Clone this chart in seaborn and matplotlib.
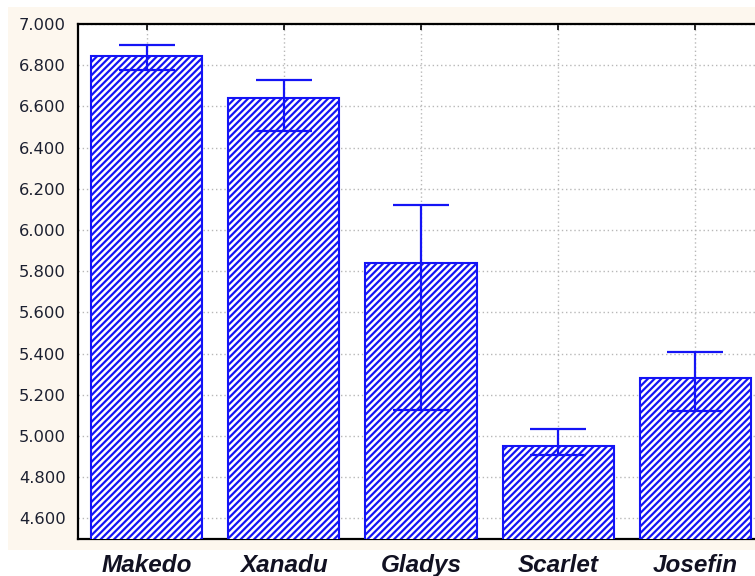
import matplotlib
matplotlib.use("Agg")
import matplotlib.pyplot as plt
from matplotlib.patches import Rectangle
from matplotlib.ticker import FormatStrFormatter
import seaborn as sns
import pandas as pd
import numpy as np

# Category means with lower/upper bounds of the whiskers
varieties = ["Makedo", "Xanadu", "Gladys", "Scarlet", "Josefin"]
means = [6.845, 6.641, 5.842, 4.951, 5.280]
upper = [6.898, 6.729, 6.123, 5.033, 5.406]
lower = [6.777, 6.482, 5.125, 4.907, 5.120]
y_ticks = [4.6, 4.8, 5.0, 5.2, 5.4, 5.6, 5.8, 6.0, 6.2, 6.4, 6.6, 6.8, 7.0]

blue = "#1414F5"
sns.set_style("white")
plt.rcParams["hatch.linewidth"] = 1.6
plt.rcParams["hatch.color"] = blue

df = pd.DataFrame({"variety": varieties, "mean": means})

fig = plt.figure(figsize=(7.55, 5.76), dpi=100)
fig.patch.set_facecolor("white")
# cream panel behind the plot
fig.patches.append(Rectangle((8 / 755, 1 - 550 / 576), 1 - 8 / 755, (550 - 7) / 576,
                             transform=fig.transFigure, facecolor="#FDF7EE",
                             edgecolor="none", zorder=-10))

ax = fig.add_axes([78 / 755, 1 - 539 / 576, (764 - 78) / 755, (539 - 24) / 576])
ax.set_facecolor("white")

sns.barplot(data=df, x="variety", y="mean", ax=ax, color="white",
            width=0.81, errorbar=None, saturation=1, zorder=3)
for bar in ax.patches:
    bar.set_facecolor("white")
    bar.set_edgecolor(blue)
    bar.set_linewidth(1.5)
    bar.set_hatch("/////")

m = np.array(means)
yerr = np.vstack([m - np.array(lower), np.array(upper) - m])
ax.errorbar(np.arange(len(varieties)), m, yerr=yerr, fmt="none",
            ecolor=blue, elinewidth=1.6, capsize=20, capthick=1.6, zorder=4)

ax.set_ylim(4.5, 7.0)
ax.set_xlim(-0.5, len(varieties) - 0.5)
ax.set_yticks(y_ticks)
ax.yaxis.set_major_formatter(FormatStrFormatter("%.3f"))
ax.set_xlabel("")
ax.set_ylabel("")

ax.grid(True, linestyle=(0, (1, 2)), color="#b8b8b8", linewidth=1.0, zorder=0)
ax.set_axisbelow(True)

for s in ax.spines.values():
    s.set_color("black")
    s.set_linewidth(1.6)
    s.set_visible(True)

ax.tick_params(axis="both", direction="in", length=4, width=1.2,
               top=True, right=True, colors="black")
ax.tick_params(axis="y", pad=9, labelsize=11.8, labelcolor="#1c2030")
ax.tick_params(axis="x", pad=10.5, labelcolor="#111122")
for lab in ax.get_yticklabels():
    lab.set_fontfamily("DejaVu Sans")
for lab in ax.get_xticklabels():
    lab.set_fontfamily("Liberation Sans")
    lab.set_fontweight("bold")
    lab.set_fontstyle("italic")
    lab.set_fontsize(17.5)
    lab.set_verticalalignment("top")

fig.savefig("out.png", dpi=100, facecolor=fig.get_facecolor())
